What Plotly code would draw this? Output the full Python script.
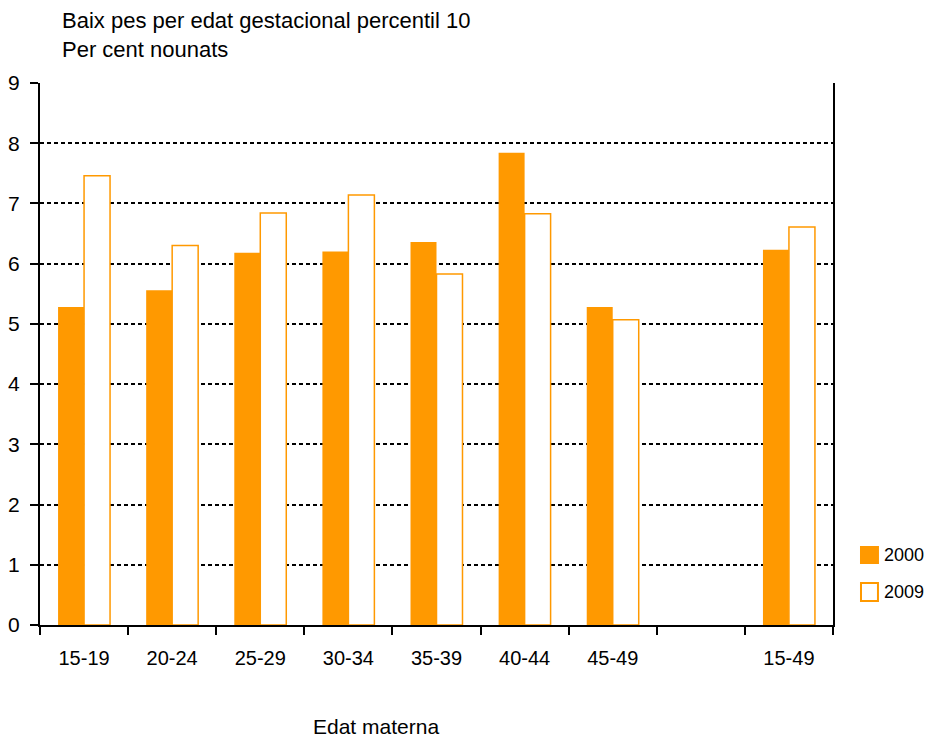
import plotly.graph_objects as go

# categories (blank slot before the total group)
grups = ['15-19', '20-24', '25-29', '30-34', '35-39', '40-44', '45-49', ' ', '15-49']
any_2000 = [5.28, 5.56, 6.18, 6.20, 6.36, 7.84, 5.28, None, 6.23]
any_2009 = [7.46, 6.30, 6.84, 7.14, 5.83, 6.83, 5.07, None, 6.61]
anys = ['2000', '2009']

taronja = '#FF9900'
font_fam = 'Liberation Sans, Arial, sans-serif'

fig = go.Figure()
fig.add_trace(go.Bar(x=grups, y=any_2000, name=anys[0],
                     marker=dict(color=taronja, line=dict(color=taronja, width=0))))
fig.add_trace(go.Bar(x=grups, y=any_2009, name=anys[1],
                     marker=dict(color='white', line=dict(color=taronja, width=1.5))))

# page body has an 8px margin, so the figure is 8px smaller each way
fig.update_layout(
    width=926, height=732,
    margin=dict(l=32, r=101, t=75, b=115),
    paper_bgcolor='white', plot_bgcolor='white',
    font=dict(family=font_fam, size=21, color='black'),
    barmode='group', bargap=0.41, bargroupgap=0,
    showlegend=False,
)

fig.update_xaxes(
    type='category', showline=True, linecolor='black', linewidth=2, automargin=False,
    ticks='outside', tickson='boundaries', ticklen=8, tickwidth=2, tickcolor='black',
    showgrid=False, ticklabelstandoff=14, tickfont=dict(size=20),
)
fig.update_yaxes(
    range=[0, 9], dtick=1, showline=True, linecolor='black', linewidth=2, mirror=True,
    automargin=False,
    ticks='outside', ticklen=8, tickwidth=1.5, tickcolor='black',
    showgrid=True, gridcolor='black', gridwidth=1.5, griddash='4px,3px',
    zeroline=False, ticklabelstandoff=6,
)

# legend drawn by hand (bigger swatches than plotly's own)
llegenda = [(0.1144, 0.1439, 0.1292, taronja), (0.0443, 0.0775, 0.0609, 'white')]
for nom, (y0, y1, ym, fons) in zip(anys, llegenda):
    fig.add_shape(type='rect', xref='paper', yref='paper', x0=1.0353, x1=1.0567,
                  y0=y0, y1=y1, fillcolor=fons, line=dict(color=taronja, width=2))
    fig.add_annotation(text=nom, xref='paper', yref='paper', x=1.0618, y=ym,
                       xanchor='left', yanchor='middle', showarrow=False,
                       font=dict(size=18))

fig.add_annotation(text='Baix pes per edat gestacional percentil 10<br>Per cent nounats',
                   xref='paper', yref='paper', x=(60 - 40) / 793, y=1.0,
                   yshift=77, xanchor='left', yanchor='top', align='left',
                   showarrow=False, font=dict(size=22))
fig.add_annotation(text='Edat materna', xref='paper', yref='paper',
                   x=(376 - 40) / 793, y=0, yshift=-101, xanchor='center', yanchor='middle',
                   showarrow=False, font=dict(size=21))

fig.write_html('out.html')
